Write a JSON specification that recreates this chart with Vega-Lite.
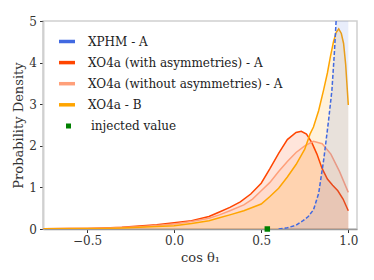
{
  "$schema": "https://vega.github.io/schema/vega-lite/v6.json",
  "width": 314,
  "height": 208,
  "autosize": {"type": "none"},
  "padding": {"left": 43, "top": 21, "right": 17, "bottom": 51},
  "background": "white",
  "config": {
    "view": {"stroke": "#d0d0d0", "strokeWidth": 1.5},
    "font": "DejaVu Serif",
    "axis": {"grid": false, "labelFont": "DejaVu Serif", "titleFont": "DejaVu Serif", "labelFontSize": 12, "titleFontSize": 13, "titleFontWeight": "normal", "labelColor": "#333", "titleColor": "#333", "tickColor": "#333", "tickSize": 3.5, "labelPadding": 3},
    "legend": {"labelFont": "DejaVu Serif", "labelFontSize": 12, "labelColor": "#222", "labelLimit": 400}
  },
  "datasets": {
    "curves": [
      {"series": "XPHM - A", "x": 0.6, "y": 0.0},
      {"series": "XPHM - A", "x": 0.65, "y": 0.03},
      {"series": "XPHM - A", "x": 0.7, "y": 0.09},
      {"series": "XPHM - A", "x": 0.74, "y": 0.2},
      {"series": "XPHM - A", "x": 0.77, "y": 0.3},
      {"series": "XPHM - A", "x": 0.8, "y": 0.46},
      {"series": "XPHM - A", "x": 0.83, "y": 0.86},
      {"series": "XPHM - A", "x": 0.86, "y": 1.7},
      {"series": "XPHM - A", "x": 0.887, "y": 2.62},
      {"series": "XPHM - A", "x": 0.906, "y": 3.34},
      {"series": "XPHM - A", "x": 0.92, "y": 4.23},
      {"series": "XPHM - A", "x": 0.93, "y": 5.0},
      {"series": "XPHM - A", "x": 0.94, "y": 6.0},
      {"series": "XPHM - A", "x": 0.96, "y": 8.0},
      {"series": "XPHM - A", "x": 0.98, "y": 9.0},
      {"series": "XPHM - A", "x": 1.0, "y": 9.0},

      {"series": "XO4a (with asymmetries) - A", "x": -0.75, "y": 0.005},
      {"series": "XO4a (with asymmetries) - A", "x": -0.6, "y": 0.01},
      {"series": "XO4a (with asymmetries) - A", "x": -0.5, "y": 0.015},
      {"series": "XO4a (with asymmetries) - A", "x": -0.4, "y": 0.025},
      {"series": "XO4a (with asymmetries) - A", "x": -0.3, "y": 0.04},
      {"series": "XO4a (with asymmetries) - A", "x": -0.2, "y": 0.07},
      {"series": "XO4a (with asymmetries) - A", "x": -0.1, "y": 0.1},
      {"series": "XO4a (with asymmetries) - A", "x": 0.0, "y": 0.15},
      {"series": "XO4a (with asymmetries) - A", "x": 0.1, "y": 0.2},
      {"series": "XO4a (with asymmetries) - A", "x": 0.2, "y": 0.3},
      {"series": "XO4a (with asymmetries) - A", "x": 0.26, "y": 0.41},
      {"series": "XO4a (with asymmetries) - A", "x": 0.32, "y": 0.52},
      {"series": "XO4a (with asymmetries) - A", "x": 0.38, "y": 0.65},
      {"series": "XO4a (with asymmetries) - A", "x": 0.44, "y": 0.84},
      {"series": "XO4a (with asymmetries) - A", "x": 0.5, "y": 1.1},
      {"series": "XO4a (with asymmetries) - A", "x": 0.55, "y": 1.45},
      {"series": "XO4a (with asymmetries) - A", "x": 0.6, "y": 1.82},
      {"series": "XO4a (with asymmetries) - A", "x": 0.65, "y": 2.15},
      {"series": "XO4a (with asymmetries) - A", "x": 0.7, "y": 2.32},
      {"series": "XO4a (with asymmetries) - A", "x": 0.73, "y": 2.35},
      {"series": "XO4a (with asymmetries) - A", "x": 0.76, "y": 2.28},
      {"series": "XO4a (with asymmetries) - A", "x": 0.79, "y": 2.08},
      {"series": "XO4a (with asymmetries) - A", "x": 0.82, "y": 1.8},
      {"series": "XO4a (with asymmetries) - A", "x": 0.85, "y": 1.45},
      {"series": "XO4a (with asymmetries) - A", "x": 0.88, "y": 1.2},
      {"series": "XO4a (with asymmetries) - A", "x": 0.91, "y": 1.05},
      {"series": "XO4a (with asymmetries) - A", "x": 0.94, "y": 0.92},
      {"series": "XO4a (with asymmetries) - A", "x": 0.97, "y": 0.72},
      {"series": "XO4a (with asymmetries) - A", "x": 1.0, "y": 0.44},

      {"series": "XO4a (without asymmetries) - A", "x": -0.75, "y": 0.005},
      {"series": "XO4a (without asymmetries) - A", "x": -0.5, "y": 0.012},
      {"series": "XO4a (without asymmetries) - A", "x": -0.4, "y": 0.02},
      {"series": "XO4a (without asymmetries) - A", "x": -0.3, "y": 0.035},
      {"series": "XO4a (without asymmetries) - A", "x": -0.2, "y": 0.055},
      {"series": "XO4a (without asymmetries) - A", "x": -0.1, "y": 0.085},
      {"series": "XO4a (without asymmetries) - A", "x": 0.0, "y": 0.12},
      {"series": "XO4a (without asymmetries) - A", "x": 0.1, "y": 0.18},
      {"series": "XO4a (without asymmetries) - A", "x": 0.2, "y": 0.26},
      {"series": "XO4a (without asymmetries) - A", "x": 0.26, "y": 0.34},
      {"series": "XO4a (without asymmetries) - A", "x": 0.32, "y": 0.44},
      {"series": "XO4a (without asymmetries) - A", "x": 0.4, "y": 0.58},
      {"series": "XO4a (without asymmetries) - A", "x": 0.45, "y": 0.72},
      {"series": "XO4a (without asymmetries) - A", "x": 0.5, "y": 0.92},
      {"series": "XO4a (without asymmetries) - A", "x": 0.55, "y": 1.12},
      {"series": "XO4a (without asymmetries) - A", "x": 0.6, "y": 1.38},
      {"series": "XO4a (without asymmetries) - A", "x": 0.65, "y": 1.62},
      {"series": "XO4a (without asymmetries) - A", "x": 0.7, "y": 1.84},
      {"series": "XO4a (without asymmetries) - A", "x": 0.75, "y": 2.0},
      {"series": "XO4a (without asymmetries) - A", "x": 0.8, "y": 2.11},
      {"series": "XO4a (without asymmetries) - A", "x": 0.85, "y": 2.05},
      {"series": "XO4a (without asymmetries) - A", "x": 0.9, "y": 1.8},
      {"series": "XO4a (without asymmetries) - A", "x": 0.95, "y": 1.38},
      {"series": "XO4a (without asymmetries) - A", "x": 1.0, "y": 0.88},

      {"series": "XO4a - B", "x": -0.75, "y": 0.005},
      {"series": "XO4a - B", "x": -0.5, "y": 0.01},
      {"series": "XO4a - B", "x": -0.4, "y": 0.015},
      {"series": "XO4a - B", "x": -0.3, "y": 0.025},
      {"series": "XO4a - B", "x": -0.2, "y": 0.04},
      {"series": "XO4a - B", "x": -0.1, "y": 0.06},
      {"series": "XO4a - B", "x": 0.0, "y": 0.08},
      {"series": "XO4a - B", "x": 0.1, "y": 0.13},
      {"series": "XO4a - B", "x": 0.2, "y": 0.2},
      {"series": "XO4a - B", "x": 0.26, "y": 0.27},
      {"series": "XO4a - B", "x": 0.32, "y": 0.34},
      {"series": "XO4a - B", "x": 0.4, "y": 0.44},
      {"series": "XO4a - B", "x": 0.5, "y": 0.6},
      {"series": "XO4a - B", "x": 0.55, "y": 0.78},
      {"series": "XO4a - B", "x": 0.6, "y": 0.98},
      {"series": "XO4a - B", "x": 0.65, "y": 1.25},
      {"series": "XO4a - B", "x": 0.7, "y": 1.55},
      {"series": "XO4a - B", "x": 0.75, "y": 1.92},
      {"series": "XO4a - B", "x": 0.78, "y": 2.28},
      {"series": "XO4a - B", "x": 0.8, "y": 2.45},
      {"series": "XO4a - B", "x": 0.83, "y": 2.85},
      {"series": "XO4a - B", "x": 0.858, "y": 3.34},
      {"series": "XO4a - B", "x": 0.88, "y": 3.75},
      {"series": "XO4a - B", "x": 0.897, "y": 4.14},
      {"series": "XO4a - B", "x": 0.915, "y": 4.5},
      {"series": "XO4a - B", "x": 0.93, "y": 4.72},
      {"series": "XO4a - B", "x": 0.945, "y": 4.81},
      {"series": "XO4a - B", "x": 0.96, "y": 4.7},
      {"series": "XO4a - B", "x": 0.973, "y": 4.46},
      {"series": "XO4a - B", "x": 0.985, "y": 3.95},
      {"series": "XO4a - B", "x": 1.0, "y": 2.98}
    ],
    "pts": [
      {"label": "injected value", "x": 0.535, "y": 0.0}
    ]
  },
  "layer": [
    {
      "data": {"name": "curves"},
      "transform": [{"filter": "datum.series !== 'XPHM - A'"}],
      "mark": {"type": "area", "clip": true, "fillOpacity": 0.14, "line": {"strokeWidth": 1.5, "clip": true}},
      "encoding": {
        "x": {"field": "x", "type": "quantitative", "scale": {"domain": [-0.753, 1.05], "nice": false, "zero": false},
              "axis": {"values": [-0.5, 0, 0.5, 1.0], "format": ".1f", "title": "cos θ₁", "titlePadding": 5, "domainColor": "#999", "domainWidth": 1.5}},
        "y": {"field": "y", "type": "quantitative", "stack": null, "scale": {"domain": [0, 5], "nice": false},
              "axis": {"values": [0, 1, 2, 3, 4, 5], "title": "Probability Density", "titlePadding": 3, "domainColor": "#d0d0d0", "domainWidth": 2}},
        "color": {"field": "series", "type": "nominal",
                  "scale": {"domain": ["XPHM - A", "XO4a (with asymmetries) - A", "XO4a (without asymmetries) - A", "XO4a - B"],
                            "range": ["#4169E1", "#FF4500", "#FFA07A", "#FFA500"]},
                  "legend": {"title": null, "orient": "none", "legendX": 14, "legendY": 10.5, "padding": 0,
                             "symbolType": "stroke", "symbolSize": 256, "symbolStrokeWidth": 3.5, "symbolOpacity": 1, "labelOffset": 11, "rowPadding": 4.1}}
      }
    },
    {
      "data": {"name": "curves"},
      "transform": [{"filter": "datum.series === 'XPHM - A'"}],
      "mark": {"type": "area", "clip": true, "fillOpacity": 0.12, "line": {"strokeWidth": 1.5, "clip": true, "strokeDash": [4, 2]}},
      "encoding": {
        "x": {"field": "x", "type": "quantitative"},
        "y": {"field": "y", "type": "quantitative", "stack": null},
        "color": {"field": "series", "type": "nominal"}
      }
    },
    {
      "data": {"name": "pts"},
      "mark": {"type": "point", "filled": true, "clip": false, "color": "#008000", "opacity": 1, "size": 30},
      "encoding": {
        "x": {"field": "x", "type": "quantitative"},
        "y": {"field": "y", "type": "quantitative"},
        "shape": {"field": "label", "type": "nominal",
                  "scale": {"domain": ["injected value"], "range": ["square"]},
                  "legend": {"title": null, "orient": "none", "legendX": 19.5, "legendY": 99, "padding": 0,
                             "symbolSize": 25, "symbolFillColor": "#008000", "symbolStrokeColor": "#008000", "symbolOpacity": 1, "labelOffset": 16.5}}
      }
    }
  ]
}
